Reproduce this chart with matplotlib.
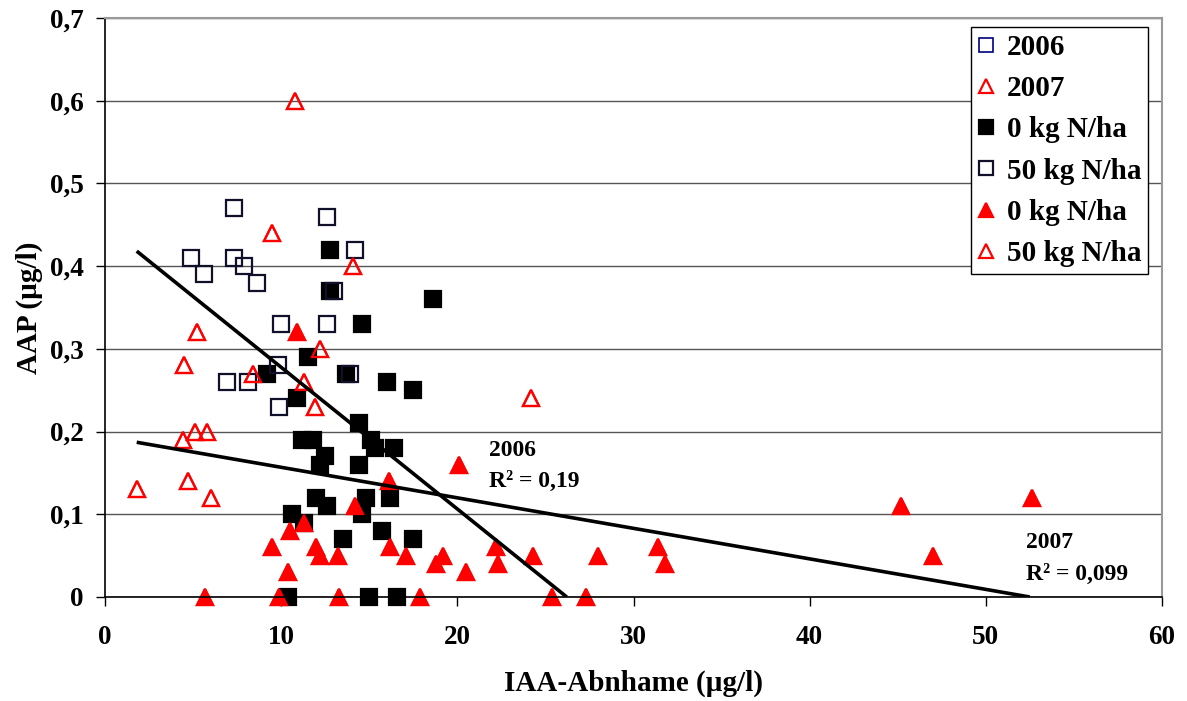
"""AAP vs. IAA-Abnahme scatter, 2006/2007 with trend lines."""
import matplotlib
matplotlib.use("Agg")
import matplotlib.pyplot as plt
from matplotlib.ticker import FuncFormatter, MultipleLocator

plt.rcParams["font.family"] = ["Liberation Serif", "DejaVu Serif"]
plt.rcParams["font.weight"] = "bold"

# 2006, 0 kg N/ha (filled black squares)
x06_0 = [9.2, 10.9, 10.6, 10.4, 11.2, 11.8, 11.5, 11.3, 12.0, 12.2, 12.5, 12.6,
         12.8, 12.8, 13.5, 13.7, 14.4, 14.4, 14.6, 14.6, 14.8, 15.0, 15.1, 15.3,
         15.7, 16.0, 16.2, 16.4, 16.6, 17.5, 17.5, 18.6]
y06_0 = [0.27, 0.24, 0.10, 0.00, 0.19, 0.19, 0.29, 0.09, 0.12, 0.16, 0.17, 0.11,
         0.42, 0.37, 0.07, 0.27, 0.21, 0.16, 0.33, 0.10, 0.12, 0.00, 0.19, 0.18,
         0.08, 0.26, 0.12, 0.18, 0.00, 0.25, 0.07, 0.36]
# 2006, 50 kg N/ha (open squares)
x06_50 = [4.9, 5.6, 7.3, 7.3, 7.9, 8.6, 10.0, 6.9, 8.1, 9.8, 9.9, 12.6, 12.6,
          14.2, 13.0, 13.9]
y06_50 = [0.41, 0.39, 0.47, 0.41, 0.40, 0.38, 0.33, 0.26, 0.26, 0.28, 0.23,
          0.46, 0.33, 0.42, 0.37, 0.27]
# 2007, 0 kg N/ha (filled red triangles)
x07_0 = [5.7, 9.9, 9.5, 10.5, 10.4, 10.9, 11.3, 12.0, 12.2, 13.2, 13.3, 14.2,
         16.1, 16.2, 17.1, 17.9, 18.8, 19.2, 20.1, 20.5, 22.2, 22.3, 24.3, 25.4,
         27.3, 28.0, 31.4, 31.8, 45.2, 47.0, 52.6]
y07_0 = [0.00, 0.00, 0.06, 0.08, 0.03, 0.32, 0.09, 0.06, 0.05, 0.05, 0.00, 0.11,
         0.14, 0.06, 0.05, 0.00, 0.04, 0.05, 0.16, 0.03, 0.06, 0.04, 0.05, 0.00,
         0.00, 0.05, 0.06, 0.04, 0.11, 0.05, 0.12]
# 2007, 50 kg N/ha (open red triangles)
x07_50 = [1.8, 4.4, 4.5, 4.7, 5.1, 5.2, 5.8, 6.0, 8.4, 9.5, 10.8, 11.3, 11.9,
          12.2, 14.1, 24.2]
y07_50 = [0.13, 0.19, 0.28, 0.14, 0.20, 0.32, 0.20, 0.12, 0.27, 0.44, 0.60,
          0.26, 0.23, 0.30, 0.40, 0.24]

# linear trend lines as shown in the chart (slope, intercept, start x)
trend06 = (-0.01713, 0.449, 1.8)
trend07 = (-0.00369, 0.1937, 1.8)
r2_06 = "0,19"
r2_07 = "0,099"

x06 = x06_0 + x06_50
y06 = y06_0 + y06_50
x07 = x07_0 + x07_50
y07 = y07_0 + y07_50


def comma(v, _pos):
    if abs(v) < 1e-9:
        return "0"
    if abs(v - round(v)) < 1e-9:
        return f"{v:.0f}"
    return f"{v:.1f}".replace(".", ",")


fig = plt.figure(figsize=(11.87, 7.01), dpi=100)
ax = fig.add_axes([105 / 1187, 104 / 701, 1057 / 1187, 579 / 701])

ms = 11.5
kw = dict(linestyle="none", markersize=ms, clip_on=False)
h1, = ax.plot(x06, y06, "s", mfc="none", mec="#000080", mew=1.2, label="2006", **kw)
h2, = ax.plot(x07, y07, "^", mfc="none", mec="#ff0000", mew=1.6, label="2007", **kw)
h3, = ax.plot(x06_0, y06_0, "s", mfc="black", mec="black", mew=1.6,
              label="0 kg N/ha", **kw)
h4, = ax.plot(x06_50, y06_50, "s", mfc="none", mec="#10102a", mew=1.6,
              label="50 kg N/ha", **kw)
h5, = ax.plot(x07_0, y07_0, "^", mfc="#ff0000", mec="#ff0000", mew=1.6,
              label="0 kg N/ha", **kw)
h6, = ax.plot(x07_50, y07_50, "^", mfc="none", mec="#ff0000", mew=1.6,
              label="50 kg N/ha", **kw)

for slope, icpt, x0 in (trend06, trend07):
    x1 = -icpt / slope
    ax.plot([x0, x1], [slope * x0 + icpt, 0.0], color="black", lw=2.6,
            solid_capstyle="butt", zorder=3)

ax.text(21.8, 0.165, "2006", fontsize=17, fontweight="bold", va="bottom")
ax.text(21.8, 0.127, f"R² = {r2_06}", fontsize=17, fontweight="bold", va="bottom")
ax.text(52.3, 0.053, "2007", fontsize=17, fontweight="bold", va="bottom")
ax.text(52.3, 0.015, f"R² = {r2_07}", fontsize=17, fontweight="bold", va="bottom")

ax.set_xlim(0, 60)
ax.set_ylim(0, 0.7)
ax.xaxis.set_major_locator(MultipleLocator(10))
ax.yaxis.set_major_locator(MultipleLocator(0.1))
ax.xaxis.set_major_formatter(FuncFormatter(comma))
ax.yaxis.set_major_formatter(FuncFormatter(comma))
ax.tick_params(axis="both", labelsize=19.5, length=6.5, width=1.0,
               direction="out", colors="black")
ax.tick_params(axis="x", pad=14)
ax.tick_params(axis="y", pad=9)
for lab in ax.get_xticklabels() + ax.get_yticklabels():
    lab.set_fontweight("bold")

ax.grid(axis="y", color="#555555", lw=1.0)
ax.set_axisbelow(True)
ax.spines["left"].set_color("black")
ax.spines["bottom"].set_color("black")
ax.spines["left"].set_linewidth(1.2)
ax.spines["bottom"].set_linewidth(1.2)
ax.spines["top"].set_color("#999999")
ax.spines["right"].set_color("#999999")
ax.spines["top"].set_linewidth(1.5)
ax.spines["right"].set_linewidth(1.5)

ax.set_xlabel("IAA-Abnhame (µg/l)", fontsize=21, fontweight="bold", labelpad=14)
ax.set_ylabel("AAP (µg/l)", fontsize=21, fontweight="bold", labelpad=5)

leg = ax.legend(handles=[h1, h2, h3, h4, h5, h6], loc="upper right",
                bbox_to_anchor=(1148 / 1187, 1 - 27 / 701),
                bbox_transform=fig.transFigure, borderaxespad=0,
                prop={"weight": "bold", "size": 21},
                frameon=True, fancybox=False, framealpha=1, edgecolor="black",
                handlelength=0.6, handletextpad=0.4, labelspacing=0.49,
                borderpad=0.23, markerscale=0.9)
leg.get_frame().set_linewidth(1.0)

fig.savefig("out.png", dpi=100)
